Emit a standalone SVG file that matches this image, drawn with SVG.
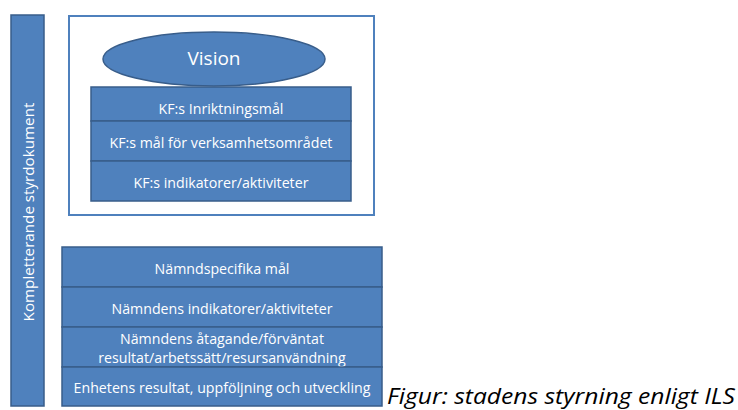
<svg xmlns="http://www.w3.org/2000/svg" width="738" height="410" viewBox="0 0 738 410">
<style>
.box{fill:#4f81bd;stroke:#385d8a;stroke-width:1.5}
.frame{fill:#fff;stroke:#4f81bd;stroke-width:2}
.t{fill:#fff;font-family:"Open Sans","Noto Sans",sans-serif;font-size:14.2px;text-anchor:middle;dominant-baseline:central}
.cap{fill:#000;font-family:"Open Sans","Noto Sans",sans-serif;font-size:21px;font-style:italic}
</style>
<rect width="738" height="410" fill="#fff"/>
<g id="side">
<rect class="box" x="11" y="15" width="33" height="391"/>
<text class="t" style="font-size:15.2px" transform="translate(27.5 212) rotate(-90)">Kompletterande  styrdokument</text>
</g>
<g id="frame">
<rect class="frame" x="69" y="16" width="305" height="199"/>
</g>
<g id="vision">
<ellipse class="box" cx="214" cy="59" rx="111" ry="27"/>
<text class="t" style="font-size:19px" x="214" y="58">Vision</text>
</g>
<g id="kf1">
<rect class="box" x="91" y="87" width="260" height="34"/>
<text class="t" x="221" y="108">KF:s Inriktningsmål</text>
</g>
<g id="kf2">
<rect class="box" x="91" y="121" width="260" height="40"/>
<text class="t" x="221" y="142">KF:s mål för verksamhetsområdet</text>
</g>
<g id="kf3">
<rect class="box" x="91" y="161" width="260" height="40"/>
<text class="t" x="221" y="182">KF:s indikatorer/aktiviteter</text>
</g>
<g id="n1">
<rect class="box" x="62" y="247" width="320" height="40"/>
<text class="t" x="222" y="268">Nämndspecifika mål</text>
</g>
<g id="n2">
<rect class="box" x="62" y="287" width="320" height="40"/>
<text class="t" x="222" y="308">Nämndens indikatorer/aktiviteter</text>
</g>
<g id="n3">
<rect class="box" x="62" y="327" width="320" height="40"/>
<text class="t" x="222" y="338">Nämndens åtagande/förväntat</text>
<text class="t" x="222" y="357">resultat/arbetssätt/resursanvändning</text>
</g>
<g id="n4">
<rect class="box" x="62" y="367" width="320" height="39"/>
<text class="t" x="222" y="387">Enhetens resultat, uppföljning och utveckling</text>
</g>
<g id="connectors"/>
<text class="cap" x="387" y="404" textLength="348" lengthAdjust="spacingAndGlyphs">Figur: stadens styrning enligt ILS</text>
</svg>
